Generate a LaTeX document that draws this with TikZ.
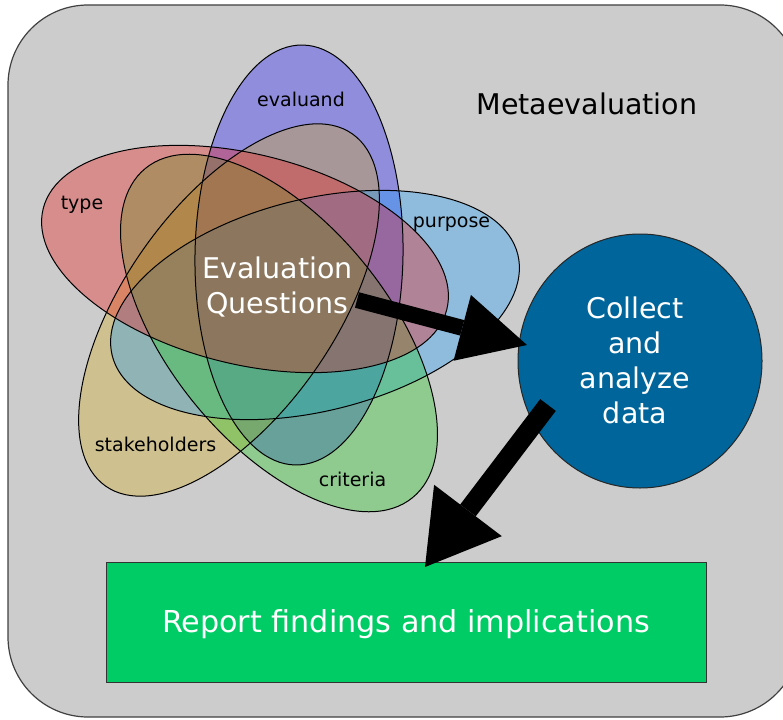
\documentclass[tikz,border=0pt]{standalone}
\usepackage{fontspec}
\setmainfont{DejaVu Sans}
\usetikzlibrary{shapes.geometric,arrows.meta}
\definecolor{bggray}{RGB}{204,204,204}
\definecolor{cType}{RGB}{240,25,25}
\definecolor{cEval}{RGB}{30,25,250}
\definecolor{cPurp}{RGB}{30,160,252}
\definecolor{cCrit}{RGB}{30,200,30}
\definecolor{cStak}{RGB}{212,172,30}
\definecolor{circblue}{RGB}{0,101,154}
\definecolor{repgreen}{RGB}{0,204,102}
\begin{document}
\begin{tikzpicture}[x=1pt,y=-1pt,
  vennfill/.style={fill opacity=0.35},
  vennline/.style={draw=black, line width=1pt},
  lbl/.style={font=\fontsize{19}{22}\selectfont, text=black, anchor=base, inner sep=0pt},
  bigtxt/.style={font=\fontsize{28.5}{35}\selectfont, text=white, align=center, inner sep=0pt},
  fatarrow/.style={draw=black, line cap=butt},
  evalE/.style={rotate around={89:(299,255)}},
  stakE/.style={rotate around={55:(229,310)}},
  purpE/.style={rotate around={14:(315,305)}},
  critE/.style={rotate around={-51:(279,333)}},
  typeE/.style={rotate around={-14:(245,259)}}]
\useasboundingbox (0,0) rectangle (783,719);
\draw[fill=bggray, draw=black!75, line width=1.2pt, rounded corners=80pt] (8,5) rectangle (800,717);
% Venn ellipse fills (bottom to top)
\fill[vennfill, fill=cEval, evalE] (299,255) ellipse [x radius=210pt, y radius=104pt];
\fill[vennfill, fill=cStak, stakE] (229,310) ellipse [x radius=215pt, y radius=105pt];
\fill[vennfill, fill=cPurp, purpE] (315,305) ellipse [x radius=209pt, y radius=106pt];
\fill[vennfill, fill=cCrit, critE] (279,333) ellipse [x radius=212pt, y radius=110pt];
\fill[vennfill, fill=cType, typeE] (245,259) ellipse [x radius=208pt, y radius=105pt];
% Venn ellipse outlines on top
\draw[vennline, evalE] (299,255) ellipse [x radius=210pt, y radius=104pt];
\draw[vennline, stakE] (229,310) ellipse [x radius=215pt, y radius=105pt];
\draw[vennline, purpE] (315,305) ellipse [x radius=209pt, y radius=106pt];
\draw[vennline, critE] (279,333) ellipse [x radius=212pt, y radius=110pt];
\draw[vennline, typeE] (245,259) ellipse [x radius=208pt, y radius=105pt];
% labels
\node[lbl] (lEval) at (301,107) {evaluand};
\node[lbl] (lType) at (82,210) {type};
\node[lbl] (lPurp) at (451.5,227) {purpose};
\node[lbl] (lStak) at (155.5,451) {stakeholders};
\node[lbl] (lCrit) at (352.5,486) {criteria};
\node[lbl, font=\fontsize{28.5}{34}\selectfont] (lMeta) at (587,115) {Metaevaluation};
\node[bigtxt] (evq) at (277.5,287) {Evaluation\\Questions};
% circle
\node[ellipse, minimum width=244pt, minimum height=254pt, inner sep=0pt, fill=circblue, draw=black!85, line width=1pt] (collect) at (640,361) {};
\node[bigtxt] (collecttxt) at (635,360) {Collect\\and\\analyze\\data};
% report box
\node[draw=black!80, line width=1pt, fill=repgreen, minimum width=600pt, minimum height=120pt, inner sep=0pt, text=white, font=\fontsize{30.2}{35}\selectfont, text height=20pt, text depth=0pt] (report) at (406,622) {Report findings and implications};
% arrows
\coordinate (a1s) at (357,300);
\coordinate (a1e) at (527,345);
\coordinate (a2s) at (548,405);
\coordinate (a2e) at (425,567);
\draw[fatarrow, line width=16pt, -{Triangle[length=67pt, width=68pt, line width=0pt]}] (a1s) -- (a1e);
\draw[fatarrow, line width=19.5pt, -{Triangle[length=71pt, width=85pt, line width=0pt]}] (a2s) -- (a2e);
\end{tikzpicture}
\end{document}
